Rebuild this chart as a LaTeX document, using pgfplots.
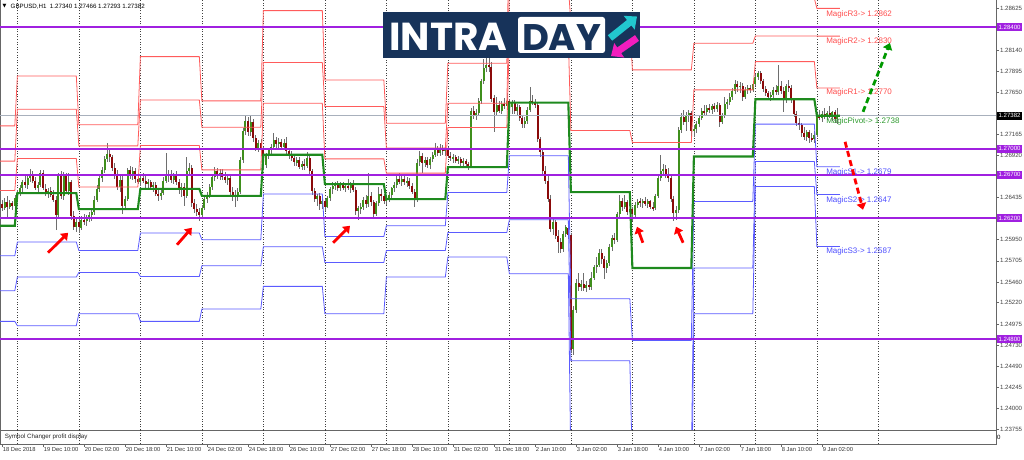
\documentclass[border=0pt]{standalone}
\usepackage{fontspec}
\setmainfont{Liberation Sans}
\newfontfamily\symfont{DejaVu Sans}
\newfontfamily\logofont{Poppins}
\usepackage{pgfplots}
\usepackage{pgfplotstable}
\pgfplotsset{compat=1.18}
\usetikzlibrary{arrows.meta}
\definecolor{rline}{HTML}{FF5B5B}
\definecolor{bline}{HTML}{5B5BFF}
\definecolor{pline}{HTML}{1E8A1E}
\definecolor{purp}{HTML}{A020E0}
\definecolor{bull}{HTML}{3F8F1C}
\definecolor{bear}{HTML}{8B0A0A}
\definecolor{wick}{HTML}{6E6E6E}
\definecolor{bidline}{HTML}{A8B0BC}
\definecolor{logonavy}{HTML}{17335A}
\definecolor{logocyan}{HTML}{22C7CF}
\definecolor{logomag}{HTML}{F21DBE}
\definecolor{magicr}{HTML}{FF4D4D}
\definecolor{magicg}{HTML}{2E9A2E}
\definecolor{magicb}{HTML}{4D4DFF}
\newcommand{\tk}{\fontsize{6.1}{7}\selectfont}

\pgfplotstableread{
b o h l c
0 1.2636 1.2641 1.2628 1.2632
1 1.2632 1.2643 1.2629 1.2638
2 1.2638 1.2645 1.2621 1.2633
3 1.2633 1.2641 1.2630 1.2637
4 1.2637 1.2640 1.2629 1.2634
5 1.2634 1.2646 1.2632 1.2643
6 1.2643 1.2652 1.2640 1.2649
7 1.2649 1.2658 1.2645 1.2655
8 1.2655 1.2664 1.2650 1.2661
9 1.2661 1.2668 1.2655 1.2658
10 1.2658 1.2670 1.2654 1.2666
11 1.2666 1.2676 1.2661 1.2670
12 1.2670 1.2674 1.2660 1.2663
13 1.2663 1.2667 1.2652 1.2655
14 1.2655 1.2662 1.2649 1.2658
15 1.2658 1.2676 1.2656 1.2672
16 1.2672 1.2675 1.2652 1.2654
17 1.2654 1.2659 1.2645 1.2648
18 1.2648 1.2655 1.2643 1.2651
19 1.2651 1.2656 1.2644 1.2646
20 1.2646 1.2652 1.2638 1.2641
21 1.2641 1.2645 1.2606 1.2624
22 1.2624 1.2672 1.2620 1.2668
23 1.2668 1.2674 1.2642 1.2645
24 1.2645 1.2673 1.2641 1.2670
25 1.2670 1.2672 1.2648 1.2651
26 1.2651 1.2672 1.2647 1.2662
27 1.2662 1.2664 1.2618 1.2622
28 1.2622 1.2628 1.2606 1.2610
29 1.2610 1.2620 1.2604 1.2615
30 1.2615 1.2619 1.2603 1.2609
31 1.2609 1.2622 1.2606 1.2618
32 1.2618 1.2624 1.2612 1.2616
33 1.2616 1.2623 1.2611 1.2620
34 1.2620 1.2627 1.2615 1.2623
35 1.2623 1.2630 1.2617 1.2627
36 1.2627 1.2645 1.2624 1.2641
37 1.2641 1.2658 1.2638 1.2654
38 1.2654 1.2669 1.2650 1.2666
39 1.2666 1.2679 1.2662 1.2676
40 1.2676 1.2692 1.2672 1.2688
41 1.2688 1.2707 1.2684 1.2694
42 1.2694 1.2700 1.2684 1.2690
43 1.2690 1.2693 1.2674 1.2678
44 1.2678 1.2684 1.2665 1.2670
45 1.2670 1.2676 1.2652 1.2656
46 1.2656 1.2668 1.2650 1.2664
47 1.2664 1.2668 1.2625 1.2634
48 1.2634 1.2645 1.2630 1.2642
49 1.2642 1.2678 1.2640 1.2675
50 1.2675 1.2680 1.2665 1.2669
51 1.2669 1.2679 1.2664 1.2674
52 1.2674 1.2678 1.2660 1.2665
53 1.2665 1.2671 1.2659 1.2662
54 1.2662 1.2670 1.2657 1.2666
55 1.2666 1.2672 1.2660 1.2663
56 1.2663 1.2668 1.2655 1.2659
57 1.2659 1.2665 1.2654 1.2661
58 1.2661 1.2664 1.2652 1.2656
59 1.2656 1.2662 1.2650 1.2658
60 1.2658 1.2661 1.2645 1.2648
61 1.2648 1.2654 1.2640 1.2645
62 1.2645 1.2652 1.2641 1.2649
63 1.2649 1.2667 1.2646 1.2663
64 1.2663 1.2695 1.2660 1.2668
65 1.2668 1.2676 1.2662 1.2671
66 1.2671 1.2675 1.2660 1.2664
67 1.2664 1.2672 1.2659 1.2669
68 1.2669 1.2674 1.2658 1.2661
69 1.2661 1.2665 1.2648 1.2652
70 1.2652 1.2660 1.2644 1.2656
71 1.2656 1.2660 1.2634 1.2645
72 1.2645 1.2690 1.2643 1.2674
73 1.2674 1.2683 1.2668 1.2678
74 1.2678 1.2681 1.2633 1.2637
75 1.2637 1.2642 1.2626 1.2630
76 1.2630 1.2636 1.2622 1.2627
77 1.2627 1.2632 1.2616 1.2624
78 1.2624 1.2635 1.2620 1.2632
79 1.2632 1.2645 1.2629 1.2642
80 1.2642 1.2650 1.2637 1.2646
81 1.2646 1.2659 1.2643 1.2656
82 1.2656 1.2670 1.2652 1.2667
83 1.2667 1.2679 1.2663 1.2674
84 1.2674 1.2678 1.2665 1.2669
85 1.2669 1.2676 1.2664 1.2672
86 1.2672 1.2677 1.2664 1.2667
87 1.2667 1.2673 1.2660 1.2664
88 1.2664 1.2670 1.2658 1.2666
89 1.2666 1.2668 1.2647 1.2650
90 1.2650 1.2656 1.2640 1.2646
91 1.2646 1.2652 1.2633 1.2644
92 1.2644 1.2654 1.2640 1.2650
93 1.2650 1.2690 1.2648 1.2687
94 1.2687 1.2724 1.2684 1.2721
95 1.2721 1.2739 1.2716 1.2732
96 1.2732 1.2737 1.2715 1.2719
97 1.2719 1.2738 1.2715 1.2731
98 1.2731 1.2734 1.2708 1.2712
99 1.2712 1.2716 1.2697 1.2700
100 1.2700 1.2710 1.2696 1.2706
101 1.2706 1.2711 1.2696 1.2699
102 1.2699 1.2702 1.2676 1.2681
103 1.2681 1.2695 1.2678 1.2692
104 1.2692 1.2701 1.2688 1.2698
105 1.2698 1.2705 1.2693 1.2702
106 1.2702 1.2718 1.2699 1.2710
107 1.2710 1.2714 1.2701 1.2705
108 1.2705 1.2712 1.2700 1.2708
109 1.2708 1.2711 1.2698 1.2702
110 1.2702 1.2711 1.2699 1.2707
111 1.2707 1.2713 1.2694 1.2697
112 1.2697 1.2701 1.2688 1.2691
113 1.2691 1.2697 1.2686 1.2689
114 1.2689 1.2692 1.2680 1.2684
115 1.2684 1.2690 1.2680 1.2687
116 1.2687 1.2690 1.2676 1.2679
117 1.2679 1.2686 1.2675 1.2682
118 1.2682 1.2688 1.2676 1.2680
119 1.2680 1.2696 1.2678 1.2689
120 1.2689 1.2692 1.2671 1.2674
121 1.2674 1.2677 1.2647 1.2651
122 1.2651 1.2655 1.2638 1.2642
123 1.2642 1.2648 1.2634 1.2645
124 1.2645 1.2649 1.2629 1.2636
125 1.2636 1.2643 1.2630 1.2639
126 1.2639 1.2642 1.2628 1.2633
127 1.2633 1.2645 1.2631 1.2643
128 1.2643 1.2656 1.2640 1.2653
129 1.2653 1.2661 1.2648 1.2657
130 1.2657 1.2662 1.2652 1.2659
131 1.2659 1.2663 1.2651 1.2655
132 1.2655 1.2661 1.2651 1.2658
133 1.2658 1.2662 1.2652 1.2654
134 1.2654 1.2660 1.2650 1.2657
135 1.2657 1.2665 1.2652 1.2655
136 1.2655 1.2661 1.2649 1.2659
137 1.2659 1.2664 1.2650 1.2652
138 1.2652 1.2656 1.2624 1.2628
139 1.2628 1.2634 1.2618 1.2631
140 1.2631 1.2637 1.2625 1.2633
141 1.2633 1.2644 1.2629 1.2641
142 1.2641 1.2646 1.2632 1.2636
143 1.2636 1.2672 1.2633 1.2645
144 1.2645 1.2650 1.2634 1.2638
145 1.2638 1.2641 1.2621 1.2625
146 1.2625 1.2640 1.2622 1.2637
147 1.2637 1.2656 1.2634 1.2648
148 1.2648 1.2653 1.2640 1.2645
149 1.2645 1.2648 1.2636 1.2640
150 1.2640 1.2645 1.2635 1.2643
151 1.2643 1.2650 1.2638 1.2647
152 1.2647 1.2656 1.2643 1.2654
153 1.2654 1.2661 1.2650 1.2658
154 1.2658 1.2668 1.2655 1.2665
155 1.2665 1.2672 1.2659 1.2662
156 1.2662 1.2668 1.2657 1.2665
157 1.2665 1.2669 1.2658 1.2661
158 1.2661 1.2667 1.2656 1.2663
159 1.2663 1.2666 1.2654 1.2657
160 1.2657 1.2660 1.2648 1.2650
161 1.2650 1.2653 1.2633 1.2641
162 1.2641 1.2688 1.2639 1.2684
163 1.2684 1.2697 1.2680 1.2692
164 1.2692 1.2695 1.2672 1.2683
165 1.2683 1.2690 1.2679 1.2687
166 1.2687 1.2690 1.2678 1.2681
167 1.2681 1.2690 1.2677 1.2688
168 1.2688 1.2696 1.2684 1.2693
169 1.2693 1.2707 1.2690 1.2700
170 1.2700 1.2703 1.2691 1.2695
171 1.2695 1.2705 1.2692 1.2701
172 1.2701 1.2704 1.2693 1.2697
173 1.2697 1.2704 1.2692 1.2699
174 1.2699 1.2702 1.2689 1.2692
175 1.2692 1.2696 1.2686 1.2689
176 1.2689 1.2694 1.2684 1.2690
177 1.2690 1.2693 1.2683 1.2686
178 1.2686 1.2691 1.2682 1.2688
179 1.2688 1.2690 1.2680 1.2684
180 1.2684 1.2689 1.2679 1.2686
181 1.2686 1.2688 1.2678 1.2682
182 1.2682 1.2685 1.2676 1.2680
183 1.2680 1.2747 1.2678 1.2744
184 1.2744 1.2749 1.2734 1.2738
185 1.2738 1.2746 1.2733 1.2741
186 1.2741 1.2758 1.2738 1.2755
187 1.2755 1.2781 1.2752 1.2778
188 1.2778 1.2803 1.2775 1.2793
189 1.2793 1.2805 1.2788 1.2797
190 1.2797 1.2806 1.2788 1.2794
191 1.2794 1.2800 1.2754 1.2758
192 1.2758 1.2762 1.2719 1.2742
193 1.2742 1.2760 1.2739 1.2750
194 1.2750 1.2755 1.2741 1.2744
195 1.2744 1.2755 1.2740 1.2752
196 1.2752 1.2759 1.2746 1.2749
197 1.2749 1.2764 1.2745 1.2755
198 1.2755 1.2758 1.2743 1.2748
199 1.2748 1.2756 1.2740 1.2753
200 1.2753 1.2756 1.2740 1.2744
201 1.2744 1.2752 1.2738 1.2748
202 1.2748 1.2750 1.2732 1.2735
203 1.2735 1.2738 1.2724 1.2728
204 1.2728 1.2736 1.2724 1.2732
205 1.2732 1.2748 1.2729 1.2745
206 1.2745 1.2771 1.2742 1.2755
207 1.2755 1.2762 1.2750 1.2753
208 1.2753 1.2758 1.2747 1.2750
209 1.2750 1.2754 1.2708 1.2711
210 1.2711 1.2714 1.2690 1.2696
211 1.2696 1.2700 1.2670 1.2674
212 1.2674 1.2680 1.2659 1.2663
213 1.2663 1.2668 1.2638 1.2642
214 1.2642 1.2646 1.2604 1.2607
215 1.2607 1.2620 1.2600 1.2615
216 1.2615 1.2618 1.2596 1.2599
217 1.2599 1.2606 1.2580 1.2592
218 1.2592 1.2597 1.2579 1.2584
219 1.2584 1.2605 1.2581 1.2601
220 1.2601 1.2612 1.2598 1.2609
221 1.2609 1.2614 1.2596 1.2600
222 1.2600 1.2603 1.2464 1.2468
223 1.2468 1.2518 1.2462 1.2514
224 1.2514 1.2549 1.2510 1.2545
225 1.2545 1.2556 1.2536 1.2540
226 1.2540 1.2548 1.2536 1.2544
227 1.2544 1.2556 1.2535 1.2539
228 1.2539 1.2547 1.2534 1.2543
229 1.2543 1.2550 1.2537 1.2540
230 1.2540 1.2558 1.2537 1.2551
231 1.2551 1.2566 1.2548 1.2563
232 1.2563 1.2575 1.2557 1.2566
233 1.2566 1.2584 1.2563 1.2580
234 1.2580 1.2584 1.2567 1.2572
235 1.2572 1.2576 1.2549 1.2562
236 1.2562 1.2572 1.2557 1.2568
237 1.2568 1.2590 1.2565 1.2587
238 1.2587 1.2600 1.2582 1.2597
239 1.2597 1.2603 1.2590 1.2594
240 1.2594 1.2627 1.2592 1.2624
241 1.2624 1.2646 1.2620 1.2640
242 1.2640 1.2643 1.2628 1.2633
243 1.2633 1.2646 1.2630 1.2638
244 1.2638 1.2641 1.2624 1.2627
245 1.2627 1.2634 1.2622 1.2630
246 1.2630 1.2633 1.2616 1.2624
247 1.2624 1.2638 1.2621 1.2635
248 1.2635 1.2642 1.2631 1.2639
249 1.2639 1.2643 1.2633 1.2637
250 1.2637 1.2642 1.2632 1.2640
251 1.2640 1.2644 1.2634 1.2636
252 1.2636 1.2642 1.2631 1.2639
253 1.2639 1.2641 1.2630 1.2633
254 1.2633 1.2638 1.2628 1.2631
255 1.2631 1.2648 1.2629 1.2645
256 1.2645 1.2669 1.2643 1.2666
257 1.2666 1.2693 1.2663 1.2674
258 1.2674 1.2682 1.2668 1.2677
259 1.2677 1.2681 1.2666 1.2671
260 1.2671 1.2678 1.2662 1.2666
261 1.2666 1.2670 1.2638 1.2642
262 1.2642 1.2645 1.2616 1.2626
263 1.2626 1.2634 1.2618 1.2629
264 1.2629 1.2725 1.2626 1.2722
265 1.2722 1.2741 1.2718 1.2737
266 1.2737 1.2745 1.2727 1.2731
267 1.2731 1.2742 1.2720 1.2739
268 1.2739 1.2745 1.2731 1.2741
269 1.2741 1.2744 1.2714 1.2720
270 1.2720 1.2727 1.2714 1.2723
271 1.2723 1.2732 1.2718 1.2729
272 1.2729 1.2739 1.2725 1.2736
273 1.2736 1.2747 1.2733 1.2744
274 1.2744 1.2750 1.2738 1.2742
275 1.2742 1.2750 1.2739 1.2747
276 1.2747 1.2752 1.2741 1.2745
277 1.2745 1.2752 1.2740 1.2749
278 1.2749 1.2753 1.2742 1.2746
279 1.2746 1.2754 1.2743 1.2750
280 1.2750 1.2753 1.2725 1.2731
281 1.2731 1.2741 1.2728 1.2738
282 1.2738 1.2760 1.2735 1.2752
283 1.2752 1.2758 1.2746 1.2754
284 1.2754 1.2764 1.2750 1.2760
285 1.2760 1.2770 1.2756 1.2767
286 1.2767 1.2779 1.2763 1.2775
287 1.2775 1.2778 1.2766 1.2771
288 1.2771 1.2777 1.2764 1.2773
289 1.2773 1.2776 1.2755 1.2760
290 1.2760 1.2771 1.2757 1.2768
291 1.2768 1.2773 1.2763 1.2770
292 1.2770 1.2774 1.2764 1.2768
293 1.2768 1.2778 1.2765 1.2775
294 1.2775 1.2786 1.2772 1.2783
295 1.2783 1.2790 1.2779 1.2787
296 1.2787 1.2790 1.2775 1.2778
297 1.2778 1.2781 1.2766 1.2769
298 1.2769 1.2773 1.2761 1.2764
299 1.2764 1.2767 1.2756 1.2760
300 1.2760 1.2766 1.2755 1.2762
301 1.2762 1.2771 1.2758 1.2768
302 1.2768 1.2774 1.2762 1.2765
303 1.2765 1.2797 1.2762 1.2772
304 1.2772 1.2778 1.2763 1.2767
305 1.2767 1.2771 1.2742 1.2756
306 1.2756 1.2775 1.2753 1.2772
307 1.2772 1.2779 1.2766 1.2770
308 1.2770 1.2774 1.2753 1.2756
309 1.2756 1.2759 1.2737 1.2740
310 1.2740 1.2744 1.2726 1.2730
311 1.2730 1.2736 1.2722 1.2727
312 1.2727 1.2730 1.2714 1.2718
313 1.2718 1.2725 1.2710 1.2713
314 1.2713 1.2722 1.2709 1.2719
315 1.2719 1.2722 1.2707 1.2712
316 1.2712 1.2718 1.2708 1.2711
317 1.2711 1.2720 1.2707 1.2716
318 1.2716 1.2741 1.2713 1.2738
319 1.2738 1.2745 1.2733 1.2736
320 1.2736 1.2743 1.2731 1.2740
321 1.2740 1.2747 1.2734 1.2737
322 1.2737 1.2744 1.2733 1.2741
323 1.2741 1.2749 1.2735 1.2738
324 1.2738 1.2744 1.2732 1.2742
325 1.2742 1.2745 1.2730 1.2734
326 1.2734 1.2747 1.2729 1.2738
}\candles

\pgfplotstableread{
b r3 r2 r1 p s1 s2 s3
-2 1.27263 1.26856 1.26516 1.26109 1.25763 1.25359 1.25005
5 1.27263 1.26856 1.26516 1.26109 1.25763 1.25359 1.25005
6 1.27840 1.27456 1.26886 1.26486 1.25921 1.25517 1.24955
29 1.27840 1.27456 1.26886 1.26486 1.25921 1.25517 1.24955
30 1.27275 1.27032 1.26556 1.26302 1.25824 1.25570 1.25094
53 1.27275 1.27032 1.26556 1.26302 1.25824 1.25570 1.25094
54 1.28063 1.27563 1.27036 1.26536 1.26025 1.25524 1.25005
77 1.28063 1.27563 1.27036 1.26536 1.26025 1.25524 1.25005
78 1.27552 1.27248 1.26755 1.26455 1.25948 1.25647 1.25148
101 1.27552 1.27248 1.26755 1.26455 1.25948 1.25647 1.25148
102 1.28594 1.27994 1.27525 1.26929 1.26475 1.25867 1.25409
125 1.28594 1.27994 1.27525 1.26929 1.26475 1.25867 1.25409
126 1.27794 1.27486 1.26882 1.26590 1.25986 1.25686 1.25094
149 1.27794 1.27486 1.26882 1.26590 1.25986 1.25686 1.25094
150 1.27294 1.27006 1.26717 1.26417 1.26109 1.25824 1.25517
173 1.27294 1.27006 1.26717 1.26417 1.26109 1.25824 1.25517
174 1.27987 1.27525 1.27244 1.26787 1.26493 1.26032 1.25748
197 1.27987 1.27525 1.27244 1.26787 1.26493 1.26032 1.25748
198 1.29625 1.28886 1.28271 1.27532 1.26917 1.26178 1.25555
221 1.29625 1.28886 1.28271 1.27532 1.26917 1.26178 1.25555
222 1.29161 1.28445 1.27209 1.26498 1.25267 1.24551 1.23320
245 1.29161 1.28445 1.27209 1.26498 1.25267 1.24551 1.23320
246 1.29359 1.27910 1.27070 1.25621 1.24785 1.23332 1.22493
269 1.29359 1.27910 1.27070 1.25621 1.24785 1.23332 1.22493
270 1.28987 1.28218 1.27679 1.26909 1.26390 1.25621 1.25094
293 1.28987 1.28218 1.27679 1.26909 1.26390 1.25621 1.25094
294 1.28736 1.28302 1.28005 1.27571 1.27283 1.26851 1.26563
317 1.28736 1.28302 1.28005 1.27571 1.27283 1.26851 1.26563
318 1.28620 1.28300 1.27700 1.27380 1.26790 1.26470 1.25870
327 1.28620 1.28300 1.27700 1.27380 1.26790 1.26470 1.25870
}\levels

\begin{document}
\begin{tikzpicture}
\useasboundingbox (0,0) rectangle (1024pt,459pt);
\tikzset{
  sepline/.style={black!75, line width=0.5pt, dash pattern=on 1pt off 1.6pt},
  frame/.style={black!60, line width=0.8pt},
  pbox/.style={anchor=west, font=\tk, text=white, inner xsep=1pt, inner ysep=0.6pt, minimum width=25.5pt, minimum height=8pt, xshift=0.6pt},
  redarrow/.style={red, line width=2.8pt, -{Triangle[length=6.5pt,width=9.5pt]}},
  magic/.style={anchor=west, inner sep=0pt, font=\fontsize{8}{9}\selectfont},
}
\begin{axis}[
  at={(0pt,29pt)}, anchor=south west, scale only axis,
  width=996pt, height=430pt,
  xmin=-0.78, xmax=387.9, ymin=1.2375, ymax=1.28717,
  clip mode=individual,
  axis line style={draw=none},
  xtick=\empty,
  ytick={1.28625,1.28140,1.27895,1.27650,1.27165,1.26920,1.26435,1.25950,1.25705,1.25460,1.25220,1.24975,1.24730,1.24490,1.24245,1.24000,1.23755},
  yticklabels={1.28625,1.28140,1.27895,1.27650,1.27165,1.26920,1.26435,1.25950,1.25705,1.25460,1.25220,1.24975,1.24730,1.24490,1.24245,1.24000,1.23755},
  ytick pos=right, yticklabel pos=right,
  tick align=outside, major tick length=3pt,
  tick style={black!60, line width=0.5pt},
  yticklabel style={font=\tk, text=black!75, inner sep=0.8pt},
  scaled y ticks=false,
]
\pgfplotsinvokeforeach{6,30,...,342}{\draw[sepline] (axis cs:#1,1.2375) -- (axis cs:#1,1.28717);}
\draw[frame] (rel axis cs:0,1) -- (rel axis cs:0,0) -- (rel axis cs:1,0) -- (rel axis cs:1,1);

% wicks
\addplot[draw=none, mark=none, forget plot, error bars/.cd, y dir=both, y explicit, error mark=none,
  error bar style={draw=wick, line width=0.6pt}]
  table[x=b, y expr={(\thisrow{h}+\thisrow{l})/2}, y error expr={(\thisrow{h}-\thisrow{l})/2}] {\candles};
% bull bodies
\addplot[draw=none, mark=none, forget plot, restrict expr to domain={\thisrow{c}-\thisrow{o}}{0:1},
  error bars/.cd, y dir=both, y explicit, error mark=none,
  error bar style={draw=bull, line width=2pt}]
  table[x=b, y expr={(\thisrow{o}+\thisrow{c})/2}, y error expr={(\thisrow{c}-\thisrow{o})/2}] {\candles};
% bear bodies
\addplot[draw=none, mark=none, forget plot, restrict expr to domain={\thisrow{o}-\thisrow{c}}{0.00001:1},
  error bars/.cd, y dir=both, y explicit, error mark=none,
  error bar style={draw=bear, line width=2pt}]
  table[x=b, y expr={(\thisrow{o}+\thisrow{c})/2}, y error expr={(\thisrow{o}-\thisrow{c})/2}] {\candles};

% bid line
\addplot[bidline, line width=0.6pt] coordinates {(-1,1.27382) (388,1.27382)};

% pivot levels
\addplot[rline, line width=0.8pt] table[x=b, y=r3] {\levels};
\addplot[rline, line width=0.8pt] table[x=b, y=r2] {\levels};
\addplot[rline, line width=0.8pt] table[x=b, y=r1] {\levels};
\addplot[bline, line width=0.8pt] table[x=b, y=s1] {\levels};
\addplot[bline, line width=0.8pt] table[x=b, y=s2] {\levels};
\addplot[bline, line width=0.8pt] table[x=b, y=s3] {\levels};
\addplot[pline, line width=2.1pt] table[x=b, y=p] {\levels};

% horizontal purple lines
\addplot[purp, line width=1.9pt] coordinates {(-1,1.28400) (388,1.28400)};
\addplot[purp, line width=1.9pt] coordinates {(-1,1.27000) (388,1.27000)};
\addplot[purp, line width=1.9pt] coordinates {(-1,1.26700) (388,1.26700)};
\addplot[purp, line width=1.9pt] coordinates {(-1,1.26200) (388,1.26200)};
\addplot[purp, line width=1.9pt] coordinates {(-1,1.24800) (388,1.24800)};

% price boxes on the right
\node[pbox, fill=purp] at (axis cs:387.9,1.28400) {1.28400};
\node[pbox, fill=black] at (axis cs:387.9,1.27382) {1.27382};
\node[pbox, fill=purp] at (axis cs:387.9,1.27000) {1.27000};
\node[pbox, fill=purp] at (axis cs:387.9,1.26700) {1.26700};
\node[pbox, fill=purp] at (axis cs:387.9,1.26200) {1.26200};
\node[pbox, fill=purp] at (axis cs:387.9,1.24800) {1.24800};

% Magic labels
\node[magic, text=magicr] at (axis cs:321.6,1.28556) {MagicR3-> 1.2862};
\node[magic, text=magicr] at (axis cs:321.6,1.28233) {MagicR2-> 1.2830};
\node[magic, text=magicr] at (axis cs:321.6,1.27644) {MagicR1-> 1.2770};
\node[magic, text=magicg] at (axis cs:321.6,1.27313) {MagicPivot-> 1.2738};
\node[magic, text=magicb] at (axis cs:321.6,1.26724) {MagicS1-> 1.2679};
\node[magic, text=magicb] at (axis cs:321.6,1.26401) {MagicS2-> 1.2647};
\node[magic, text=magicb] at (axis cs:321.6,1.25813) {MagicS3-> 1.2587};

% annotation arrows
\draw[redarrow] (axis cs:17.95,1.25798) -- (axis cs:25.8,1.26028);
\draw[redarrow] (axis cs:68.3,1.25890) -- (axis cs:74.1,1.26086);
\draw[redarrow] (axis cs:129.2,1.25913) -- (axis cs:135.8,1.26109);
\draw[redarrow] (axis cs:250.1,1.25913) -- (axis cs:247.8,1.26098);
\draw[redarrow] (axis cs:265.8,1.25913) -- (axis cs:263.0,1.26098);
\draw[green!60!black, line width=2.8pt, dash pattern=on 6pt off 3.5pt, -{Triangle[length=6.5pt,width=9.5pt]}] (axis cs:336.0,1.27425) -- (axis cs:346.5,1.28221);
\draw[red, line width=2.8pt, dash pattern=on 6pt off 3.5pt, -{Triangle[length=6.5pt,width=9.5pt]}] (axis cs:329.0,1.27079) -- (axis cs:336.0,1.26294);
\end{axis}

\begin{axis}[
  at={(0pt,15pt)}, anchor=south west, scale only axis,
  width=996pt, height=14pt,
  xmin=-0.78, xmax=387.9, ymin=0, ymax=1,
  axis line style={black!60, line width=0.7pt},
  ytick=\empty,
  xtick={0,16,...,320},
  xticklabels={18 Dec 2018,19 Dec 10:00,20 Dec 02:00,20 Dec 18:00,21 Dec 10:00,24 Dec 02:00,24 Dec 18:00,26 Dec 10:00,27 Dec 02:00,27 Dec 18:00,28 Dec 10:00,31 Dec 02:00,31 Dec 18:00,2 Jan 10:00,3 Jan 02:00,3 Jan 18:00,4 Jan 10:00,7 Jan 02:00,7 Jan 18:00,8 Jan 10:00,9 Jan 02:00},
  xtick pos=left, tick align=outside, major tick length=3pt,
  tick style={black!60, line width=0.5pt},
  xticklabel style={font=\fontsize{5.8}{7}\selectfont, anchor=north west, inner sep=0.6pt, text=black!80},
  clip=false,
]
\pgfplotsinvokeforeach{6,30,...,342}{\draw[sepline] (axis cs:#1,0) -- (axis cs:#1,1);}
\node[anchor=west, font=\fontsize{6.2}{7}\selectfont, inner sep=0pt, text=black!85] at (axis cs:1,0.5) {Symbol Changer profit display};
\node[anchor=west, font=\tk, inner sep=1pt] at (rel axis cs:1,0.5) {0};
\end{axis}

% title
\node[anchor=west, inner sep=0pt, font=\symfont\fontsize{5}{6}\selectfont] at (2.5pt,452.5pt) {▼};
\node[anchor=west, inner sep=0pt, font=\fontsize{6.2}{7}\selectfont] at (10.5pt,452.5pt) {GBPUSD,H1\ \ 1.27340 1.27466 1.27293 1.27382};

% logo
\fill[logonavy] (383pt,401pt) rectangle (640pt,446.5pt);
\node[anchor=base west, inner sep=0pt, text=white, font=\logofont\bfseries\fontsize{39}{39}\selectfont] at (389pt,409pt) {INTRA};
\fill[white, rounded corners=2.5pt] (518pt,406pt) rectangle (605pt,442pt);
\node[anchor=base, inner sep=0pt, text=logonavy, font=\logofont\bfseries\fontsize{37}{37}\selectfont] at (561.5pt,409pt) {DAY};
\draw[logocyan, line width=7pt, -{Triangle[length=10pt,width=17pt]}] (610pt,421pt) -- (637pt,442.5pt);
\draw[logomag, line width=7pt, -{Triangle[length=10pt,width=17pt]}] (637pt,421pt) -- (611pt,403pt);
\end{tikzpicture}
\end{document}
